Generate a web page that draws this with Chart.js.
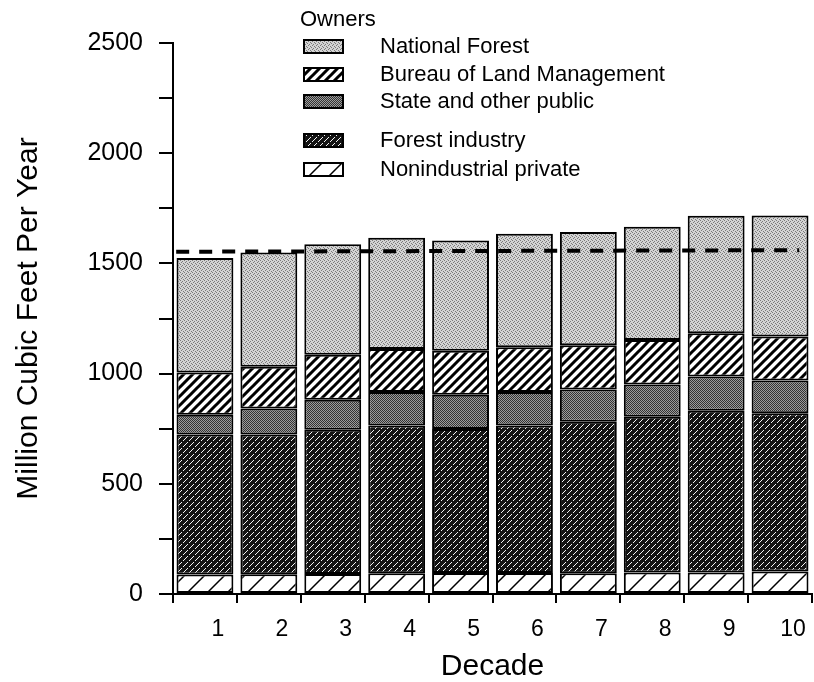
<!DOCTYPE html>
<html>
<head>
<meta charset="utf-8">
<script src="https://cdn.jsdelivr.net/npm/chart.js@4.4.1/dist/chart.umd.min.js"></script>
<style>
    body { margin: 0; background: #fff; }
    #wrap { position: relative; width: 814px; height: 682px; }
    #legend { position: absolute; left: 0; top: 0; font-family: "Liberation Sans", Arial, sans-serif; color: #000; }
    #legend .title { position: absolute; left: 300px; top: 6px; font-size: 22px; white-space: nowrap; }
    #legend .row { position: absolute; left: 303px; height: 26px; display: flex; align-items: center; white-space: nowrap; font-size: 22px; }
    #legend canvas { width: 41px; height: 15px; margin-right: 36px; }
</style>
</head>
<body>
<div id="wrap">
    <canvas id="ownersChart" width="814" height="682"></canvas>
    <div id="legend"><div class="title">Owners</div></div>
</div>
<script>
const decades = ['1', '2', '3', '4', '5', '6', '7', '8', '9', '10'];

// million cubic feet per year, by owner
const nationalForest = [520, 518, 502, 504, 500, 515, 513, 514, 533, 549];
const landManagement = [192, 189, 204, 196, 200, 204, 201, 201, 196, 199];
const statePublic = [89, 118, 136, 152, 155, 151, 147, 147, 156, 149];
const forestIndustry = [636, 634, 654, 670, 654, 670, 687, 707, 733, 718];
const nonindustrial = [88, 90, 91, 94, 95, 95, 94, 97, 98, 102];

// dashed reference level across the decades
const levelX = [0.55, 10.3];
const levelY = [1553, 1560];

const yMax = 2500;
const yStep = 250;
const yLabelStep = 500;

const FONT = '"Liberation Sans", Arial, sans-serif';

function tile(size, draw) {
    const c = document.createElement('canvas');
    c.width = c.height = size;
    draw(c.getContext('2d'), size);
    return c;
}

function stripes(bg, fg, size, width) {
    return tile(size, (g, s) => {
        g.fillStyle = bg;
        g.fillRect(0, 0, s, s);
        g.strokeStyle = fg;
        g.lineWidth = width;
        g.beginPath();
        [0, s, 2 * s].forEach(k => {
            g.moveTo(-2, k + 2);
            g.lineTo(k + 2, -2);
        });
        g.stroke();
    });
}

function stipple(size, bg, fg, dots) {
    return tile(size, (g, s) => {
        g.fillStyle = bg;
        g.fillRect(0, 0, s, s);
        g.fillStyle = fg;
        dots.forEach(([x, y]) => g.fillRect(x, y, 1, 1));
    });
}

const tiles = {
    nf: stipple(4, '#d4d4d4', '#7a7a7a', [[0, 0], [2, 1], [1, 2], [3, 3]]),
    blm: stripes('#fff', '#000', 9, 3),
    state: stipple(2, '#9c9c9c', '#333', [[0, 0], [1, 1]]),
    fi: stipple(6, '#141414', '#f4f4f4', [[5, 0], [4, 1], [3, 2], [1, 4], [0, 5]]),
    ni: stripes('#fff', '#000', 20, 1.5)
};

const ctx = document.getElementById('ownersChart').getContext('2d');
const fill = key => ctx.createPattern(tiles[key], 'repeat');

function barSet(label, data, key) {
    return {
        type: 'bar',
        label: label,
        data: data,
        backgroundColor: fill(key),
        borderColor: '#000',
        borderWidth: 2,
        borderSkipped: false,
        grouped: false,
        barPercentage: 0.89,
        categoryPercentage: 1
    };
}

const datasets = [
    barSet('Nonindustrial private', nonindustrial, 'ni'),
    barSet('Forest industry', forestIndustry, 'fi'),
    barSet('State and other public', statePublic, 'state'),
    barSet('Bureau of Land Management', landManagement, 'blm'),
    barSet('National Forest', nationalForest, 'nf'),
    {
        type: 'line',
        label: 'Level',
        data: levelX.map((x, i) => ({ x: x, y: levelY[i] })),
        xAxisID: 'xl',
        borderColor: '#000',
        borderWidth: 4,
        borderDash: [13, 10],
        pointRadius: 0,
        fill: false,
        order: -1
    }
];

new Chart(ctx, {
    type: 'bar',
    data: { labels: decades, datasets: datasets },
    options: {
        responsive: false,
        animation: false,
        layout: { padding: { top: 43, right: 2, left: 0, bottom: 0 } },
        plugins: {
            legend: { display: false },
            tooltip: { enabled: false }
        },
        scales: {
            x: {
                type: 'category',
                stacked: true,
                offset: true,
                grid: { offset: true, drawOnChartArea: false, color: '#000', lineWidth: 2, tickLength: 9 },
                border: { color: '#000', width: 2 },
                ticks: {
                    color: '#000',
                    font: { family: FONT, size: 23 },
                    padding: 13,
                    labelOffset: 13,
                    maxRotation: 0,
                    autoSkip: false
                },
                title: {
                    display: true,
                    text: 'Decade',
                    color: '#000',
                    font: { family: FONT, size: 30, lineHeight: 1 },
                    padding: { top: 0, bottom: 0 }
                },
                afterFit: s => { s.height = 88; }
            },
            xl: { type: 'linear', display: false, min: 0.5, max: 10.5, offset: false },
            y: {
                stacked: true,
                min: 0,
                max: yMax,
                grid: { drawOnChartArea: false, color: '#000', lineWidth: 2, tickLength: 14 },
                border: { color: '#000', width: 2 },
                ticks: {
                    stepSize: yStep,
                    autoSkip: false,
                    color: '#000',
                    font: { family: FONT, size: 25 },
                    padding: 16,
                    callback: v => (v % yLabelStep === 0 ? v : '')
                },
                title: {
                    display: true,
                    text: 'Million Cubic Feet Per Year',
                    color: '#000',
                    font: { family: FONT, size: 30, lineHeight: 1 },
                    padding: { top: 14, bottom: 0 }
                },
                afterFit: s => { s.width = 173; }
            }
        }
    }
});

// legend, same order and gap as the original key
const legendRows = [
    ['National Forest', 'nf', 33],
    ['Bureau of Land Management', 'blm', 61],
    ['State and other public', 'state', 88],
    ['Forest industry', 'fi', 127],
    ['Nonindustrial private', 'ni', 156]
];
const legend = document.getElementById('legend');
legendRows.forEach(([label, key, top]) => {
    const row = document.createElement('div');
    row.className = 'row';
    row.style.top = top + 'px';
    const sw = document.createElement('canvas');
    sw.width = 41;
    sw.height = 15;
    const g = sw.getContext('2d');
    g.fillStyle = g.createPattern(tiles[key], 'repeat');
    g.fillRect(0, 0, 41, 15);
    g.strokeStyle = '#000';
    g.lineWidth = 2;
    g.strokeRect(1, 1, 39, 13);
    row.appendChild(sw);
    row.appendChild(document.createTextNode(label));
    legend.appendChild(row);
});
</script>
</body>
</html>
